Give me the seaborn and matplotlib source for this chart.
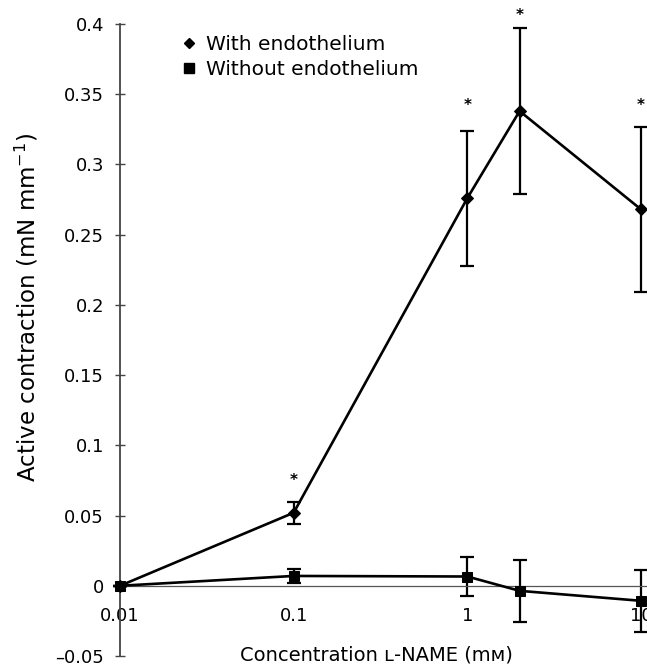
import matplotlib
matplotlib.use("Agg")
import matplotlib.pyplot as plt
from matplotlib.lines import Line2D
import seaborn as sns
import pandas as pd

# ---- data ----
conc = [0.01, 0.1, 1, 2, 10]
with_endo = [0.0, 0.052, 0.276, 0.338, 0.268]
with_err = [0.0, 0.008, 0.048, 0.059, 0.059]
without_endo = [0.0, 0.007, 0.0066, -0.0036, -0.0107]
without_err = [0.0, 0.005, 0.014, 0.022, 0.022]
star_conc = [0.1, 1, 2, 10]
star_y = [0.075, 0.342, 0.406, 0.342]
series_names = ["With endothelium", "Without endothelium"]
xtick_vals = [0.01, 0.1, 1, 10]
xtick_labels = ["0.01", "0.1", "1", "10"]
ytick_vals = [-0.05, 0, 0.05, 0.1, 0.15, 0.2, 0.25, 0.3, 0.35, 0.4]
ytick_labels = ["–0.05", "0", "0.05", "0.1", "0.15", "0.2", "0.25", "0.3", "0.35", "0.4"]

sns.set_style("ticks")
plt.rcParams["font.family"] = ["DejaVu Sans"]
plt.rcParams["text.color"] = "black"
plt.rcParams["xtick.labelcolor"] = "black"
plt.rcParams["ytick.labelcolor"] = "black"

df = pd.DataFrame({
    "conc": conc * 2,
    "val": with_endo + without_endo,
    "group": [series_names[0]] * len(conc) + [series_names[1]] * len(conc),
})

W, H = 647, 666
fig = plt.figure(figsize=(W / 100, H / 100), dpi=100)
ax = fig.add_axes([120 / W, (H - 656) / H, (W - 120) / W, (656 - 24) / H])
ax.set_xscale("log")

sns.lineplot(data=df, x="conc", y="val", style="group", markers={series_names[0]: "D", series_names[1]: "s"},
             dashes=False, color="black", linewidth=1.9, markersize=6.5, markeredgecolor="black",
             legend=False, ax=ax, clip_on=False, zorder=3)

ax.errorbar(conc, with_endo, yerr=with_err, fmt="none", ecolor="black", elinewidth=1.6,
            capsize=5, capthick=1.6, clip_on=False, zorder=2)
ax.errorbar(conc, without_endo, yerr=without_err, fmt="none", ecolor="black", elinewidth=1.6,
            capsize=5, capthick=1.6, clip_on=False, zorder=2)

for xs, ys in zip(star_conc, star_y):
    ax.text(xs, ys, "*", ha="center", va="center", fontsize=11, fontweight="bold",
            color="black", clip_on=False)

ax.set_xlim(0.01, 10.83)
ax.set_ylim(-0.05, 0.4)

ax.spines["top"].set_visible(False)
ax.spines["right"].set_visible(False)
ax.spines["bottom"].set_position(("data", 0))
ax.spines["bottom"].set_color("#555555")
ax.spines["bottom"].set_linewidth(0.9)
ax.spines["left"].set_color("#444444")
ax.spines["left"].set_linewidth(1.3)

ax.set_xticks(xtick_vals)
ax.set_xticklabels(xtick_labels)
ax.xaxis.set_minor_locator(matplotlib.ticker.NullLocator())
ax.tick_params(axis="x", which="both", length=0, pad=15, labelsize=13)
ax.set_yticks(ytick_vals)
ax.set_yticklabels(ytick_labels)
ax.tick_params(axis="y", direction="inout", length=7, width=1, color="#444444", pad=8, labelsize=13)
ax.set_xlabel("")
ax.set_ylabel("")

fig.text(376 / W, 1 - 655 / H, "Concentration \u029f-NAME (m\u1d0d)", ha="center", va="center", fontsize=14)
fig.text(27 / W, 1 - 307 / H, "Active contraction (mN mm$^{-1}$)", ha="center", va="center",
         rotation=90, fontsize=16.5)

handles = [Line2D([], [], marker="D", color="black", linestyle="none", markersize=5.5),
           Line2D([], [], marker="s", color="black", linestyle="none", markersize=6.5)]
ax.legend(handles, series_names, loc="upper left", bbox_to_anchor=(183 / W, 1 - 35 / H),
          bbox_transform=fig.transFigure, frameon=False, fontsize=14.5, handlelength=0.6,
          handletextpad=0.55, labelspacing=0.28, borderaxespad=0, borderpad=0)

fig.savefig("out.png", dpi=100)
